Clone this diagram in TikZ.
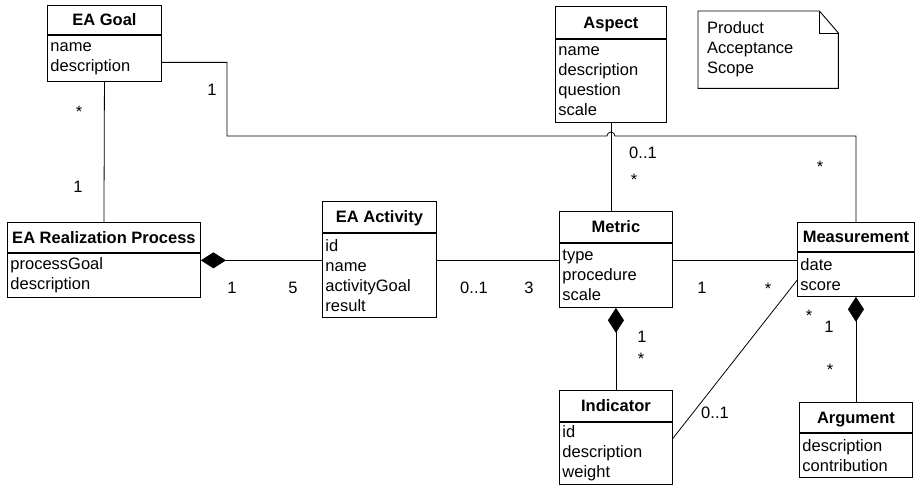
\documentclass[tikz,border=0pt]{standalone}
\usepackage{fontspec}
\setmainfont{Liberation Sans}
\usetikzlibrary{arrows.meta, positioning}
\newcommand{\umlfont}{\fontsize{16.5}{20}\selectfont}

\begin{document}
\begin{tikzpicture}[
  x=1pt, y=-1pt,
  chead/.style={draw, line width=0.9pt, font=\umlfont\bfseries, minimum width=#1, inner sep=0pt, anchor=north west, text height=11.8pt, text depth=0pt},
  cbody/.style={draw, line width=0.9pt, font=\umlfont, text width=#1-6pt, inner xsep=3pt, inner ysep=0pt, align=left},
  notebox/.style={anchor=north west, font=\umlfont, minimum width=140pt, minimum height=77pt, text width=122pt, inner xsep=9pt, inner ysep=0pt, align=left},
  link/.style={line width=0.8pt},
  comp/.style={{Diamond[length=25pt, width=16pt]}-, line width=0.8pt},
  mult/.style={font=\umlfont, inner sep=0pt, text height=11.8pt, text depth=0pt},
]
\useasboundingbox (0,0) rectangle (915,485);

\node[chead=114pt, minimum height=29pt] (goalH)   at (47,5)    {EA Goal};
\node[cbody=114pt, minimum height=46pt, below=0pt of goalH]   (goalB)   {name\\description};
\node[chead=111pt, minimum height=32pt] (aspectH) at (555,6)   {Aspect};
\node[cbody=111pt, minimum height=83pt, below=0pt of aspectH] (aspectB) {name\\description\\question\\scale};
\node[chead=193pt, minimum height=30pt] (procH)   at (7,222)   {EA Realization Process};
\node[cbody=193pt, minimum height=44pt, below=0pt of procH]   (procB)   {processGoal\\description};
\node[chead=114pt, minimum height=31pt] (actH)    at (322,201) {EA Activity};
\node[cbody=114pt, minimum height=84pt, below=0pt of actH]    (actB)    {id\\name\\activityGoal\\result};
\node[chead=113pt, minimum height=31pt] (metricH) at (559,211) {Metric};
\node[cbody=113pt, minimum height=64pt, below=0pt of metricH] (metricB) {type\\procedure\\scale};
\node[chead=117pt, minimum height=29pt] (measH)   at (797,222) {Measurement};
\node[cbody=117pt, minimum height=44pt, below=0pt of measH]   (measB)   {date\\score};
\node[chead=113pt, minimum height=31pt] (indH)    at (559,390) {Indicator};
\node[cbody=113pt, minimum height=62pt, below=0pt of indH]    (indB)    {id\\description\\weight};
\node[chead=113pt, minimum height=30pt] (argH)    at (799,402) {Argument};
\node[cbody=113pt, minimum height=44pt, below=0pt of argH]    (argB)    {description\\contribution};

\node[notebox] (note) at (698,11) {Product\\Acceptance\\Scope};
\draw[line width=0.9pt] (note.north west) -- ([xshift=-19pt]note.north east) -- ([yshift=-22pt]note.north east) -- (note.south east) -- (note.south west) -- cycle;
\draw[line width=0.9pt] ([xshift=-19pt]note.north east) -- ([xshift=-19pt, yshift=-22pt]note.north east) -- ([yshift=-22pt]note.north east);

\coordinate (hop) at (aspectB.south |- 0,136);
\draw[link] (goalB.south) -- (procH.north);
\draw[link] ([yshift=-4pt]goalB.east) -| (227,136) -- ([xshift=-4pt]hop) arc[start angle=180, end angle=0, radius=4pt] -- (measH.north |- hop) -- (measH.north);
\draw[link] (aspectB.south) -- (aspectB.south |- metricH.north);
\draw[comp] ([yshift=15pt]procB.east) -- ([yshift=15pt]actB.west);
\draw[link] ([yshift=15pt]actB.east) -- ([yshift=15pt]metricB.west);
\draw[link] ([yshift=15pt]metricB.east) -- ([yshift=14pt]measB.west);
\draw[comp] (metricB.south) -- (indH.north);
\draw[comp] (measB.south) -- (argH.north);
\draw[link] ([yshift=15pt]indB.east) -- ([yshift=-6pt]measB.west);

\node[mult] (goalMany)    at (79,112)    {*};
\node[mult] (procOne)     at (78,187)    {1};
\node[mult] (goalOne)     at (212,90)    {1};
\node[mult] (procComp)    at (232,288)   {1};
\node[mult] (actFive)     at (293,288)   {5};
\node[mult] (actOpt)      at (474,288)   {0..1};
\node[mult] (metricThree) at (529,288)   {3};
\node[mult] (metricOne)   at (702,288)   {1};
\node[mult] (measMany)    at (768,288.5) {*};
\node[mult] (aspectOpt)   at (643,153)   {0..1};
\node[mult] (metricMany)  at (634,179.5) {*};
\node[mult] (measGoal)    at (820,166.5) {*};
\node[mult] (metricComp)  at (642,337)   {1};
\node[mult] (indMany)     at (641,358.5) {*};
\node[mult] (indOpt)      at (715,413)   {0..1};
\node[mult] (measInd)     at (809,315.5) {*};
\node[mult] (measComp)    at (829,327)   {1};
\node[mult] (argMany)     at (830,369.5) {*};
\end{tikzpicture}
\end{document}
